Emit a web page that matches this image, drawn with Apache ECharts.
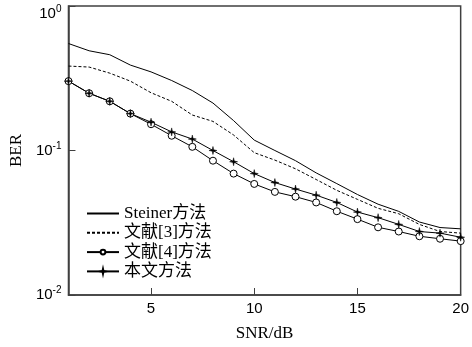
<!DOCTYPE html>
<html>
<head>
<meta charset="utf-8">
<script src="https://cdn.jsdelivr.net/npm/echarts@6/dist/echarts.min.js"></script>
<style>
html,body{margin:0;padding:0;background:#fff;}
#c{width:472px;height:347px;}
</style>
</head>
<body>
<div id="c"></div>
<script>
var snr = [1,2,3,4,5,6,7,8,9,10,11,12,13,14,15,16,17,18,19,20];
var steiner = [0.55,0.49,0.46,0.39,0.35,0.305,0.26,0.213,0.161,0.118,0.100,0.085,0.070,0.059,0.0496,0.0425,0.0379,0.032,0.0293,0.0287];
var ref3 = [0.384,0.378,0.343,0.302,0.251,0.219,0.176,0.159,0.128,0.0966,0.0858,0.0747,0.063,0.053,0.0459,0.0398,0.0365,0.0308,0.0275,0.0268];
var ref4 = [0.302,0.249,0.219,0.180,0.152,0.1265,0.106,0.085,0.0692,0.0587,0.0517,0.0479,0.0437,0.038,0.0335,0.0294,0.0275,0.0255,0.0245,0.0236];
var ours = [0.302,0.249,0.219,0.180,0.157,0.1345,0.120,0.100,0.0836,0.0692,0.060,0.0541,0.0491,0.0437,0.0375,0.0343,0.0308,0.0275,0.0268,0.0251];
var seriesNames = ['Steiner方法','文献[3]方法','文献[4]方法','本文方法'];
var xTicks = [5,10,15,20];

function pairs(arr){ return snr.map(function(x,i){ return [x, arr[i]]; }); }

var serif = '"Liberation Serif","Times New Roman","Noto Sans CJK SC",serif';
var sans = '"Liberation Sans",Arial,sans-serif';
var starPath = 'path://M0,-10 L1.8,-1.8 L10,0 L1.8,1.8 L0,10 L-1.8,1.8 L-10,0 L-1.8,-1.8 Z';

var chart = echarts.init(document.getElementById('c'), null, {renderer:'canvas'});
chart.setOption({
  animation: false,
  backgroundColor: '#fff',
  grid: {left:60, right:5, top:6, bottom:40, show:true, borderColor:'#404040', borderWidth:1.5, backgroundColor:'transparent'},
  legend: {
    orient:'vertical', left:81, top:200, itemWidth:32, itemHeight:6, itemGap:2.3,
    textStyle:{fontFamily:serif, fontSize:17, color:'#000'},
    data: [
      {name:seriesNames[0], itemStyle:{opacity:0}},
      {name:seriesNames[1], itemStyle:{opacity:0}},
      {name:seriesNames[2]},
      {name:seriesNames[3]}
    ]
  },
  xAxis: {
    type:'value', min:1, max:20,
    name:'SNR/dB', nameLocation:'middle', nameGap:30,
    nameTextStyle:{fontFamily:serif, fontSize:17, color:'#000'},
    axisLine:{show:true, lineStyle:{color:'#404040', width:1.5}},
    axisTick:{show:true, inside:true, length:7, lineStyle:{color:'#404040', width:1}, customValues:xTicks},
    axisLabel:{fontFamily:sans, fontSize:15, color:'#000', margin:6, customValues:xTicks},
    splitLine:{show:false}
  },
  yAxis: {
    type:'log', logBase:10, min:0.01, max:1,
    name:'BER', nameLocation:'middle', nameGap:42,
    nameTextStyle:{fontFamily:serif, fontSize:17, color:'#000'},
    axisLine:{show:true, lineStyle:{color:'#404040', width:1.5}},
    axisTick:{show:true, inside:true, length:7, lineStyle:{color:'#404040', width:1}},
    minorTick:{show:false},
    splitLine:{show:false},
    axisLabel:{
      margin:7, color:'#000',
      formatter:function(v){
        var e = Math.round(Math.log10(v));
        if (e === 0) return '{t|10}{ts|0}';
        return '{b|10}{s|' + e + '}';
      },
      rich:{
        b:{fontFamily:sans, fontSize:15, color:'#000'},
        s:{fontFamily:sans, fontSize:10, color:'#000', padding:[0,0,9,0]},
        t:{fontFamily:sans, fontSize:15, color:'#000', padding:[16,0,0,0]},
        ts:{fontFamily:sans, fontSize:10, color:'#000', padding:[7,0,0,0]}
      }
    }
  },
  series: [
    {name:seriesNames[0], type:'line', data:pairs(steiner), symbol:'none', lineStyle:{color:'#000', width:1}, itemStyle:{color:'#000'}},
    {name:seriesNames[1], type:'line', data:pairs(ref3), symbol:'none', lineStyle:{color:'#000', width:1, type:[3,2]}, itemStyle:{color:'#000'}},
    {name:seriesNames[2], type:'line', data:pairs(ref4), symbol:'circle', symbolSize:7, showAllSymbol:true,
      lineStyle:{color:'#000', width:1}, itemStyle:{color:'#fff', borderColor:'#000', borderWidth:1}},
    {name:seriesNames[3], type:'line', data:pairs(ours), symbol:starPath, symbolSize:8, showAllSymbol:true,
      lineStyle:{color:'#000', width:1}, itemStyle:{color:'#000', borderColor:'#000', borderWidth:0.5}}
  ]
});
</script>
</body>
</html>
